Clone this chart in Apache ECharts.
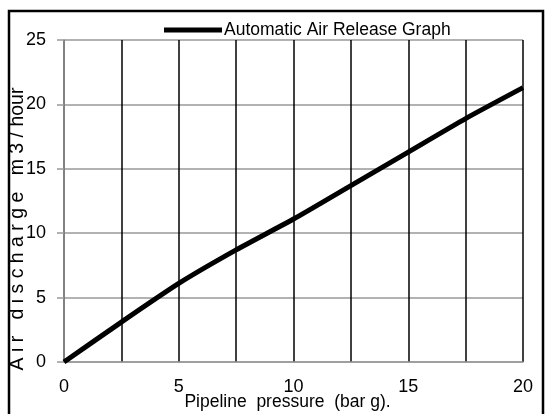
<!DOCTYPE html>
<html><head><meta charset="utf-8">
<script src="https://cdn.jsdelivr.net/npm/echarts@6/dist/echarts.min.js"></script>
<style>html,body{margin:0;padding:0;background:#fff}#c{width:546px;height:414px}</style>
</head><body><div id="c"></div>
<script>
const pressure = [0, 2.5, 5, 7.5, 10, 12.5, 15, 17.5, 20];
const discharge = [0, 3.1, 6.1, 8.7, 11.1, 13.7, 16.3, 18.9, 21.3];
const seriesName = 'Automatic Air Release Graph';
const xName = 'Pipeline  pressure  (bar g).';
const yName = 'A i r   d i s c h a r g e   m 3 / hour';
const FONT = '"Liberation Sans", Arial, sans-serif';

const chart = echarts.init(document.getElementById('c'));
chart.setOption({
  animation: false,
  textStyle: {fontFamily: FONT},
  graphic: [{type: 'rect', shape: {x: 9, y: 11, width: 534, height: 410},
    style: {fill: 'none', stroke: '#000', lineWidth: 2.5}, silent: true}],
  legend: {
    top: 16, left: 159, itemWidth: 58, itemHeight: 5, itemGap: 2,
    icon: 'rect',
    textStyle: {fontSize: 17.5, color: '#000', fontFamily: FONT, padding: [0,0,0,-3]},
    data: [{name: seriesName, itemStyle: {color: '#000'}}]
  },
  grid: {left: 64, right: 23, top: 40, bottom: 52, outerBoundsMode: 'none', containLabel: false},
  xAxis: {
    type: 'value', min: 0, max: 20, interval: 2.5,
    name: xName, nameLocation: 'middle', nameGap: 31, nameMoveOverlap: false,
    nameTextStyle: {fontSize: 17.5, color: '#000', fontFamily: FONT, padding: [0, 12, 0, 0]},
    axisLine: {show: true, lineStyle: {color: '#999', width: 1.5}},
    axisTick: {show: false},
    axisLabel: {fontSize: 18, color: '#000', margin: 16, fontFamily: FONT,
      formatter: v => (v % 5 === 0 ? String(v) : '')},
    splitLine: {show: true, lineStyle: {color: '#000', width: 1.5}}
  },
  yAxis: {
    type: 'value', min: 0, max: 25, interval: 5,
    name: yName, nameLocation: 'middle', nameGap: 36, nameMoveOverlap: false,
    nameTextStyle: {fontSize: 19.5, color: '#000', fontFamily: FONT, padding: [0, 56, 0, 0]},
    axisLine: {show: true, lineStyle: {color: '#999', width: 1.5}},
    axisTick: {show: true, length: 7, lineStyle: {color: '#999', width: 1.5}},
    axisLabel: {fontSize: 18, color: '#000', margin: 18, fontFamily: FONT},
    splitLine: {show: true, lineStyle: {color: '#999', width: 1.5}}
  },
  series: [{
    name: seriesName, type: 'line', smooth: 0.2,
    data: pressure.map((p, i) => [p, discharge[i]]),
    showSymbol: false, symbol: 'none',
    lineStyle: {color: '#000', width: 5}, itemStyle: {color: '#000'}
  }]
});
</script></body></html>
